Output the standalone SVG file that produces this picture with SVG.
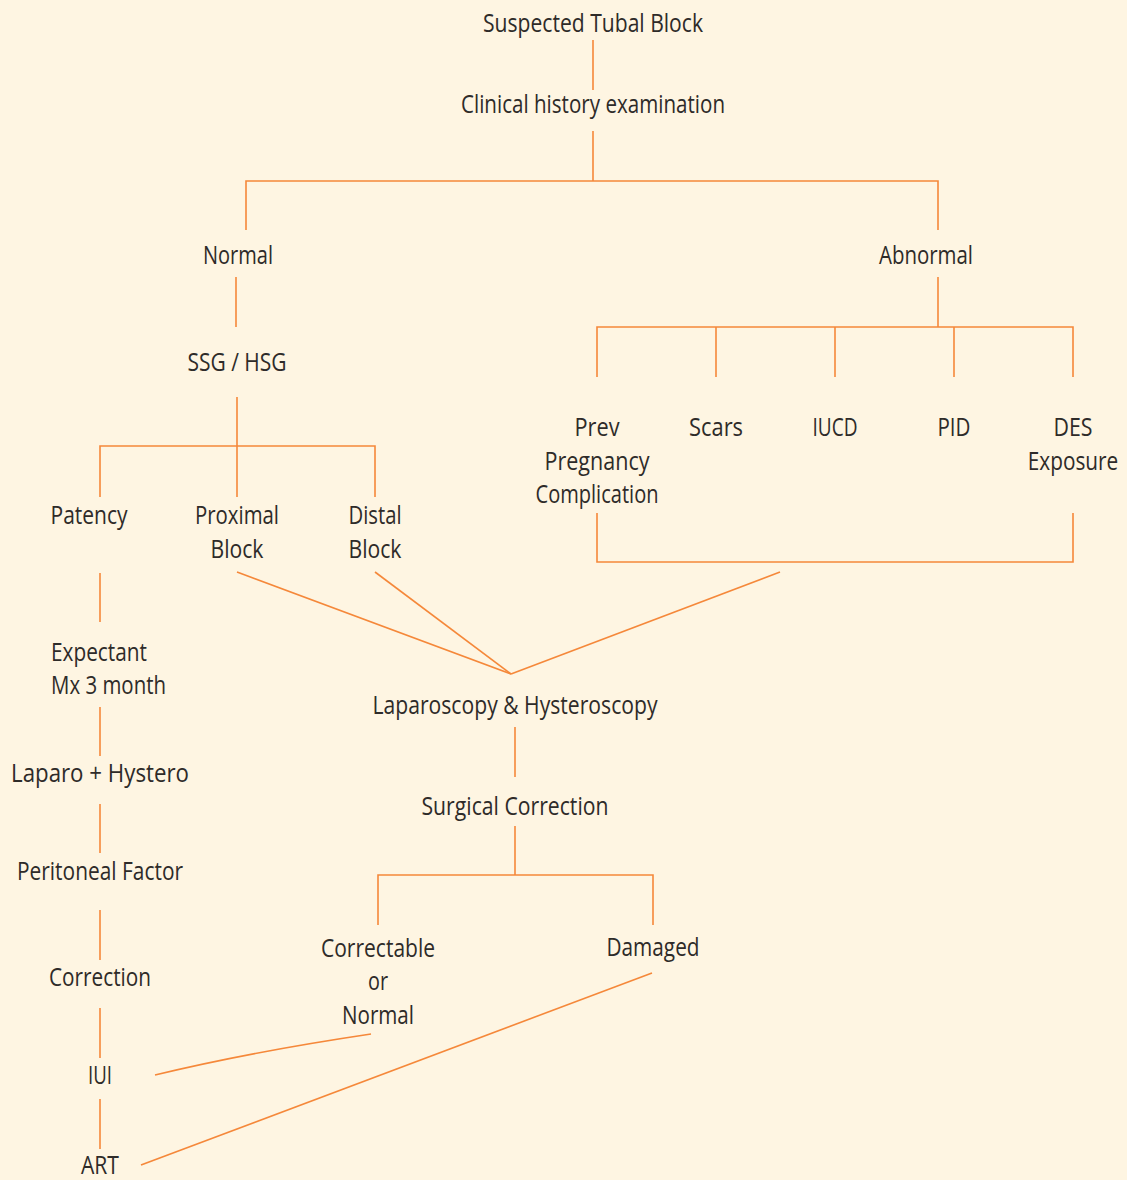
<svg xmlns="http://www.w3.org/2000/svg" width="1127" height="1180" viewBox="0 0 1127 1180">
  <style>
    .bg { fill: #FEF5E2; }
    .lbl { font-family: "Open Sans", "Liberation Sans", sans-serif; font-size: 26px; fill: #2e2b29; text-anchor: middle; }
    .lbl-l { text-anchor: start; }
    .wire { stroke: #F5883A; stroke-width: 1.6; fill: none; stroke-linecap: butt; }
  </style>
  <rect class="bg" x="0" y="0" width="1127" height="1180"/>

  <!-- connectors -->
  <g id="connectors" class="wire">
    <line x1="593" y1="40" x2="593" y2="90"/>
    <line x1="593" y1="131" x2="593" y2="181"/>
    <polyline points="246,230 246,181 938,181 938,230"/>
    <line x1="236" y1="277" x2="236" y2="327"/>
    <line x1="938" y1="277" x2="938" y2="327"/>
    <polyline points="597,377 597,327 1073,327 1073,377"/>
    <line x1="716" y1="327" x2="716" y2="377"/>
    <line x1="835" y1="327" x2="835" y2="377"/>
    <line x1="954" y1="327" x2="954" y2="377"/>
    <line x1="237" y1="397" x2="237" y2="497"/>
    <polyline points="100,497 100,446 375,446 375,497"/>
    <polyline points="597,513 597,562 1073,562 1073,513"/>
    <line x1="237" y1="572" x2="511" y2="674"/>
    <line x1="375" y1="572" x2="511" y2="674"/>
    <line x1="780" y1="572" x2="511" y2="674"/>
    <line x1="515" y1="727" x2="515" y2="777"/>
    <line x1="515" y1="826" x2="515" y2="875"/>
    <polyline points="378,925 378,875 653,875 653,925"/>
    <line x1="100" y1="573" x2="100" y2="622"/>
    <line x1="100" y1="707" x2="100" y2="756"/>
    <line x1="100" y1="804" x2="100" y2="853"/>
    <line x1="100" y1="910" x2="100" y2="960"/>
    <line x1="100" y1="1008" x2="100" y2="1058"/>
    <line x1="100" y1="1099" x2="100" y2="1149"/>
    <path d="M155,1075 Q250,1052 371,1034"/>
    <line x1="652" y1="973" x2="141" y2="1165"/>
  </g>

  <g id="n-suspected"><text class="lbl" x="593" y="32" textLength="220" lengthAdjust="spacingAndGlyphs">Suspected Tubal Block</text></g>
  <g id="n-clinical"><text class="lbl" x="593" y="113" textLength="264" lengthAdjust="spacingAndGlyphs">Clinical history examination</text></g>
  <g id="n-normal"><text class="lbl" x="238" y="264" textLength="70" lengthAdjust="spacingAndGlyphs">Normal</text></g>
  <g id="n-abnormal"><text class="lbl" x="926" y="264" textLength="94" lengthAdjust="spacingAndGlyphs">Abnormal</text></g>
  <g id="n-ssg"><text class="lbl" x="237" y="371" textLength="99" lengthAdjust="spacingAndGlyphs">SSG / HSG</text></g>

  <g id="n-patency"><text class="lbl" x="89" y="524" textLength="77" lengthAdjust="spacingAndGlyphs">Patency</text></g>
  <g id="n-proximal">
    <text class="lbl" x="237" y="524" textLength="84" lengthAdjust="spacingAndGlyphs">Proximal</text>
    <text class="lbl" x="237" y="558" textLength="53" lengthAdjust="spacingAndGlyphs">Block</text>
  </g>
  <g id="n-distal">
    <text class="lbl" x="375" y="524" textLength="53" lengthAdjust="spacingAndGlyphs">Distal</text>
    <text class="lbl" x="375" y="558" textLength="53" lengthAdjust="spacingAndGlyphs">Block</text>
  </g>

  <g id="n-prev">
    <text class="lbl" x="597" y="436" textLength="45" lengthAdjust="spacingAndGlyphs">Prev</text>
    <text class="lbl" x="597" y="470" textLength="105" lengthAdjust="spacingAndGlyphs">Pregnancy</text>
    <text class="lbl" x="597" y="503" textLength="123" lengthAdjust="spacingAndGlyphs">Complication</text>
  </g>
  <g id="n-scars"><text class="lbl" x="716" y="436" textLength="54" lengthAdjust="spacingAndGlyphs">Scars</text></g>
  <g id="n-iucd"><text class="lbl" x="835" y="436" textLength="45" lengthAdjust="spacingAndGlyphs">IUCD</text></g>
  <g id="n-pid"><text class="lbl" x="954" y="436" textLength="33" lengthAdjust="spacingAndGlyphs">PID</text></g>
  <g id="n-des">
    <text class="lbl" x="1073" y="436" textLength="39" lengthAdjust="spacingAndGlyphs">DES</text>
    <text class="lbl" transform="translate(1073,470) scale(0.8,1)" x="0" y="0">Exposure</text>
  </g>

  <g id="n-expectant">
    <text class="lbl lbl-l" x="51" y="661" textLength="96" lengthAdjust="spacingAndGlyphs">Expectant</text>
    <text class="lbl lbl-l" x="51" y="694" textLength="115" lengthAdjust="spacingAndGlyphs">Mx 3 month</text>
  </g>
  <g id="n-laparo"><text class="lbl" x="100" y="782" textLength="178" lengthAdjust="spacingAndGlyphs">Laparo + Hystero</text></g>
  <g id="n-peritoneal"><text class="lbl" x="100" y="880" textLength="166" lengthAdjust="spacingAndGlyphs">Peritoneal Factor</text></g>
  <g id="n-correction"><text class="lbl" x="100" y="986" textLength="102" lengthAdjust="spacingAndGlyphs">Correction</text></g>
  <g id="n-iui"><text class="lbl" x="100" y="1084" textLength="24" lengthAdjust="spacingAndGlyphs">IUI</text></g>
  <g id="n-art"><text class="lbl" x="100" y="1174" textLength="38" lengthAdjust="spacingAndGlyphs">ART</text></g>

  <g id="n-lapscopy"><text class="lbl" x="515" y="714" textLength="285" lengthAdjust="spacingAndGlyphs">Laparoscopy &amp; Hysteroscopy</text></g>
  <g id="n-surgical"><text class="lbl" x="515" y="815" textLength="187" lengthAdjust="spacingAndGlyphs">Surgical Correction</text></g>
  <g id="n-correctable">
    <text class="lbl" x="378" y="957" textLength="114" lengthAdjust="spacingAndGlyphs">Correctable</text>
    <text class="lbl" x="378" y="990" textLength="20" lengthAdjust="spacingAndGlyphs">or</text>
    <text class="lbl" x="378" y="1024" textLength="72" lengthAdjust="spacingAndGlyphs">Normal</text>
  </g>
  <g id="n-damaged"><text class="lbl" x="653" y="956" textLength="93" lengthAdjust="spacingAndGlyphs">Damaged</text></g>
</svg>
